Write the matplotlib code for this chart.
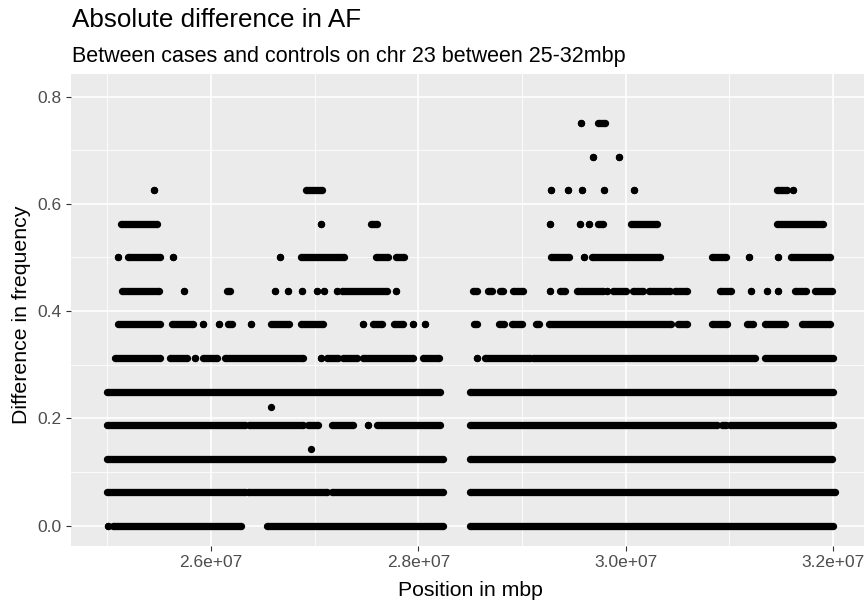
import matplotlib
matplotlib.use('Agg')
import matplotlib.pyplot as plt

plt.rcParams['font.family'] = ['Liberation Sans', 'DejaVu Sans']

# difference levels seen in the chart
levels = [0.0, 0.0625, 0.125, 0.1875, 0.25, 0.3125, 0.375,
          0.4375, 0.5, 0.5625, 0.625, 0.6875, 0.75]

# runs of SNPs (start, end) in Mbp for each level
runs_0000 = [(25.009, 25.009), (25.057, 26.289), (26.543, 28.241), (28.499, 32.004)]
runs_0625 = [(24.994, 26.328), (26.360, 27.116), (27.164, 28.241), (28.499, 32.020)]
runs_1250 = [(24.994, 28.241), (28.499, 31.988)]
runs_1875 = [(24.994, 26.328), (26.370, 26.885), (26.939, 27.035), (27.164, 27.373),
             (27.518, 27.518), (27.599, 28.209), (28.499, 30.879), (30.930, 30.969),
             (31.007, 32.004)]
runs_2500 = [(24.994, 28.209), (28.499, 32.004)]
runs_3125 = [(25.074, 25.508), (25.604, 25.766), (25.846, 25.846), (25.920, 26.055),
             (26.135, 26.891), (27.061, 27.061), (27.116, 27.228), (27.276, 27.406),
             (27.469, 27.952), (28.048, 28.200), (28.563, 28.563), (28.643, 29.078),
             (29.110, 31.248), (31.345, 32.004)]
runs_3750 = [(25.106, 25.508), (25.621, 25.829), (25.926, 25.926), (26.080, 26.080),
             (26.167, 26.200), (26.383, 26.383), (26.576, 26.755), (26.865, 27.083),
             (27.463, 27.463), (27.566, 27.653), (27.766, 27.855), (27.952, 27.952),
             (28.068, 28.068), (28.537, 28.569), (28.781, 28.827), (28.901, 28.998),
             (29.136, 29.167), (29.261, 30.435), (30.509, 30.595), (30.831, 30.981),
             (31.168, 31.232), (31.345, 31.538), (31.699, 31.972)]
runs_4375 = [(25.138, 25.495), (25.742, 25.742), (26.151, 26.183), (26.617, 26.617),
             (26.740, 26.740), (26.878, 26.878), (27.026, 27.026), (27.090, 27.090),
             (27.213, 27.213), (27.261, 27.701), (27.785, 27.785), (28.531, 28.563),
             (28.675, 28.708), (28.788, 28.820), (28.911, 29.007), (29.271, 29.271),
             (29.367, 29.418), (29.534, 29.785), (29.818, 29.818), (29.881, 30.004),
             (30.074, 30.165), (30.229, 30.428), (30.477, 30.589), (30.911, 31.014),
             (31.207, 31.207), (31.361, 31.361), (31.473, 31.473), (31.634, 31.740),
             (31.827, 31.988)]
runs_5000 = [(25.106, 25.106), (25.196, 25.508), (25.636, 25.636), (26.666, 26.666),
             (26.865, 27.283), (27.592, 27.711), (27.785, 27.862), (29.277, 29.457),
             (29.599, 29.599), (29.673, 30.332), (30.831, 30.969), (31.191, 31.191),
             (31.467, 31.467), (31.593, 31.972)]
runs_5625 = [(25.129, 25.476), (27.061, 27.061), (27.544, 27.604), (29.271, 29.271),
             (29.560, 29.560), (29.647, 29.647), (29.737, 29.785), (30.052, 30.306),
             (31.458, 31.907)]
runs_6250 = [(25.447, 25.447), (26.914, 27.074), (29.277, 29.277), (29.441, 29.441),
             (29.576, 29.576), (29.792, 29.792), (30.084, 30.084), (31.458, 31.554),
             (31.618, 31.618)]
runs_6875 = [(29.688, 29.688), (29.939, 29.939)]
runs_7500 = [(29.570, 29.570), (29.737, 29.801)]

# two SNPs off the regular levels
lone_x = [26.576, 26.962]
lone_y = [0.222, 0.143]

all_runs = [runs_0000, runs_0625, runs_1250, runs_1875, runs_2500, runs_3125,
            runs_3750, runs_4375, runs_5000, runs_5625, runs_6250, runs_6875,
            runs_7500]

x_ticks = [2.6e7, 2.8e7, 3.0e7, 3.2e7]
x_labels = ['2.6e+07', '2.8e+07', '3.0e+07', '3.2e+07']
y_ticks = [0.0, 0.2, 0.4, 0.6, 0.8]
y_labels = ['0.0', '0.2', '0.4', '0.6', '0.8']

W, H = 864, 604
fig = plt.figure(figsize=(W / 100, H / 100), dpi=100)
ax = fig.add_axes([71 / W, 58 / H, 798 / W, 472 / H])
ax.set_facecolor('#EBEBEB')

dot = 5.25  # point diameter in pt
for y, runs in zip(levels, all_runs):
    for x0, x1 in runs:
        ax.plot([x0 * 1e6, x1 * 1e6], [y, y], color='black', lw=dot,
                solid_capstyle='butt', marker='o', ms=dot, mew=0)
ax.scatter([x * 1e6 for x in lone_x], lone_y, s=dot ** 2, color='black', lw=0)

ax.set_xlim(2.4649e7, 3.2348e7)
ax.set_ylim(-0.038, 0.842)

ax.set_xticks(x_ticks)
ax.set_xticklabels(x_labels)
ax.set_xticks([2.5e7, 2.7e7, 2.9e7, 3.1e7], minor=True)
ax.set_yticks(y_ticks)
ax.set_yticklabels(y_labels)
ax.set_yticks([0.1, 0.3, 0.5, 0.7], minor=True)

ax.set_axisbelow(True)
ax.grid(which='major', color='white', lw=1.2)
ax.grid(which='minor', color='white', lw=0.6)
for s in ax.spines.values():
    s.set_visible(False)
ax.tick_params(which='major', length=3.7, width=0.8, color='#333333',
               labelcolor='#4D4D4D', labelsize=12.5, pad=3)
ax.tick_params(which='minor', length=0)

ax.set_xlabel('Position in mbp', fontsize=15.3, color='black')
ax.xaxis.set_label_coords(0.5, -(596 - 546) / 472)
ax.xaxis.label.set_verticalalignment('baseline')
ax.set_ylabel('Difference in frequency', fontsize=15.3, color='black')
ax.yaxis.set_label_coords((31 - 71) / 798, 0.49)

fig.text(71.5 / W, 1 - 27.3 / H, 'Absolute difference in AF', fontsize=18.7,
         va='baseline', ha='left')
fig.text(71.5 / W, 1 - 61.7 / H,
         'Between cases and controls on chr 23 between 25-32mbp',
         fontsize=15.5, va='baseline', ha='left')

fig.savefig('out.png', dpi=100, facecolor='white')
